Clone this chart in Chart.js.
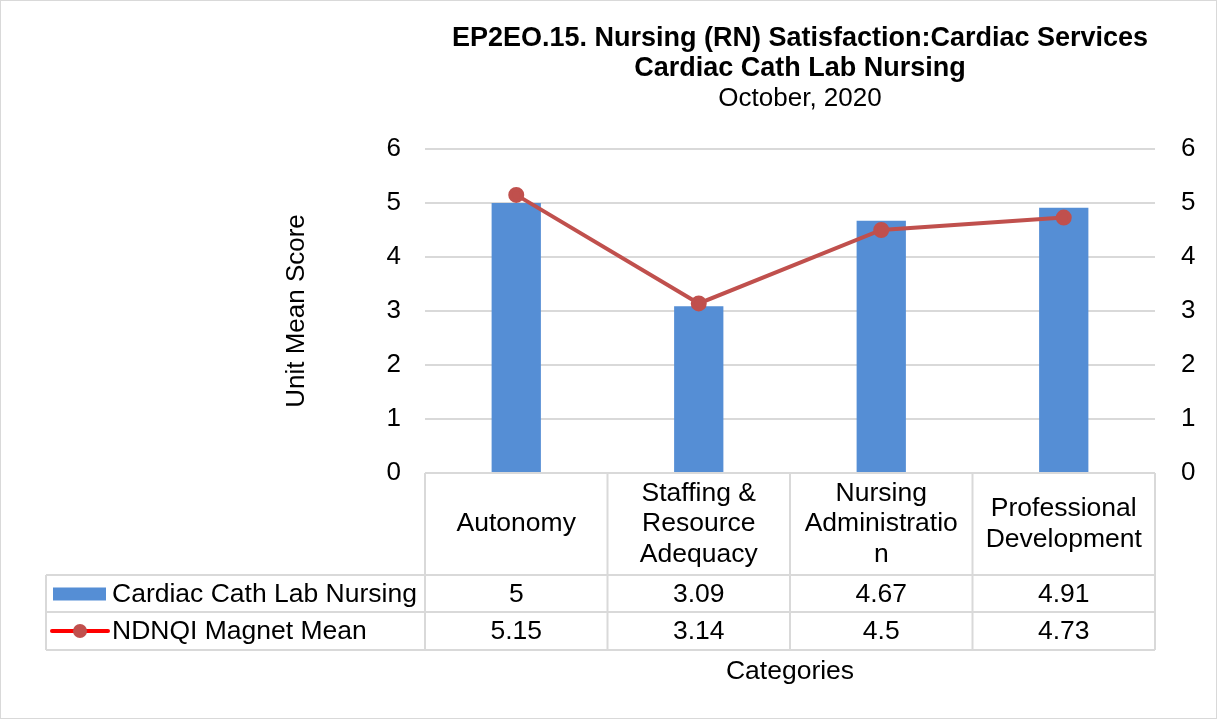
<!DOCTYPE html>
<html>
<head>
<meta charset="utf-8">
<script src="https://cdn.jsdelivr.net/npm/chart.js@4/dist/chart.umd.min.js"></script>
<style>
  body { margin: 0; background: #fff; }
</style>
</head>
<body>
<canvas id="myChart" width="1217" height="719"></canvas>
<script>
// categories (wrapped like the table header in the original)
var categories = [
    ["Autonomy"],
    ["Staffing &", "Resource", "Adequacy"],
    ["Nursing", "Administratio", "n"],
    ["Professional", "Development"]
];
var unitName = "Cardiac Cath Lab Nursing";
var unitScores = [5, 3.09, 4.67, 4.91];
var magnetName = "NDNQI Magnet Mean";
var magnetScores = [5.15, 3.14, 4.5, 4.73];
var yTicks = [0, 1, 2, 3, 4, 5, 6];
var titleLines = ["EP2EO.15. Nursing (RN) Satisfaction:Cardiac Services", "Cardiac Cath Lab Nursing"];
var subTitle = "October, 2020";

var FONT = "'Liberation Sans', Arial, sans-serif";
var barColor = "#558ED5";
var lineColor = "#C0504D";
var gridColor = "#d9d9d9";

// draws the titles and the data table under the plot, lined up with the category scale
var dataTable = {
    id: 'dataTable',
    afterDraw: function (chart) {
        var ctx = chart.ctx;
        var x = chart.scales.x;
        var area = chart.chartArea;
        var n = categories.length;
        var step = (area.right - area.left) / n;
        var top = area.bottom;
        var headBottom = top + 102;
        var row1 = headBottom + 37;
        var row2 = row1 + 38;
        var tableLeft = 46;

        ctx.save();
        // titles
        ctx.fillStyle = "#000";
        ctx.textAlign = "center";
        ctx.textBaseline = "middle";
        ctx.font = "bold 27px " + FONT;
        ctx.fillText(titleLines[0], 800, 39);
        ctx.fillText(titleLines[1], 800, 69);
        ctx.font = "26px " + FONT;
        ctx.fillText(subTitle, 800, 99);

        ctx.strokeStyle = gridColor;
        ctx.lineWidth = 2;
        ctx.beginPath();
        // horizontal lines
        ctx.moveTo(area.left, top); ctx.lineTo(area.right, top);
        ctx.moveTo(tableLeft, headBottom); ctx.lineTo(area.right, headBottom);
        ctx.moveTo(tableLeft, row1); ctx.lineTo(area.right, row1);
        ctx.moveTo(tableLeft, row2); ctx.lineTo(area.right, row2);
        // vertical lines
        ctx.moveTo(tableLeft, headBottom); ctx.lineTo(tableLeft, row2);
        for (var i = 0; i <= n; i++) {
            var vx = area.left + i * step;
            ctx.moveTo(vx, top); ctx.lineTo(vx, row2);
        }
        ctx.stroke();

        ctx.font = "26.5px " + FONT;
        for (var i = 0; i < n; i++) {
            var cx = x.getPixelForValue(i);
            var lines = categories[i];
            var mid = (top + headBottom) / 2;
            for (var j = 0; j < lines.length; j++) {
                ctx.fillText(lines[j], cx, mid + (j - (lines.length - 1) / 2) * 30.5);
            }
            ctx.fillText(String(unitScores[i]), cx, (headBottom + row1) / 2 + 1);
            ctx.fillText(String(magnetScores[i]), cx, (row1 + row2) / 2 + 1);
        }

        // legend keys
        var r1 = (headBottom + row1) / 2;
        var r2 = (row1 + row2) / 2;
        ctx.fillStyle = barColor;
        ctx.fillRect(53, r1 - 6, 53, 13);
        ctx.strokeStyle = "#FF0000";
        ctx.lineWidth = 4;
        ctx.lineCap = "round";
        ctx.beginPath();
        ctx.moveTo(52, r2); ctx.lineTo(108, r2);
        ctx.stroke();
        ctx.fillStyle = lineColor;
        ctx.beginPath();
        ctx.arc(80, r2, 7, 0, Math.PI * 2);
        ctx.fill();

        ctx.fillStyle = "#000";
        ctx.textAlign = "left";
        ctx.fillText(unitName, 112, r1 + 1);
        ctx.fillText(magnetName, 112, r2 + 1);

        // x axis title
        ctx.textAlign = "center";
        ctx.fillText("Categories", (area.left + area.right) / 2, row2 + 22);

        // outer frame
        ctx.strokeStyle = gridColor;
        ctx.lineWidth = 1;
        ctx.strokeRect(0.5, 0.5, chart.width - 1, chart.height - 1);
        ctx.restore();
    }
};

var ctx = document.getElementById("myChart");
window.myChart = new Chart(ctx, {
    type: 'bar',
    data: {
        labels: categories,
        datasets: [
            {
                type: 'line',
                label: magnetName,
                data: magnetScores,
                borderColor: lineColor,
                backgroundColor: lineColor,
                borderWidth: 4,
                pointRadius: 6,
                pointBackgroundColor: lineColor,
                pointBorderColor: lineColor,
                yAxisID: 'y',
                order: 0
            },
            {
                label: unitName,
                data: unitScores,
                backgroundColor: barColor,
                barPercentage: 0.27,
                categoryPercentage: 1,
                yAxisID: 'y',
                order: 1
            }
        ]
    },
    options: {
        responsive: false,
        animation: false,
        layout: { padding: { left: 277, right: 0, top: 149, bottom: 246 } },
        plugins: {
            legend: { display: false },
            tooltip: { enabled: false },
            title: { display: false }
        },
        scales: {
            x: { display: false },
            y: {
                position: 'left',
                min: 0,
                max: 6,
                afterBuildTicks: function (scale) {
                    scale.ticks = yTicks.map(function (v) { return { value: v }; });
                },
                afterFit: function (scale) { scale.width = 148; },
                grid: { color: gridColor, lineWidth: 2, drawTicks: false },
                border: { display: false },
                ticks: { color: "#000", padding: 24, font: { family: FONT, size: 26 } },
                title: {
                    display: true,
                    text: "Unit Mean Score",
                    color: "#000",
                    font: { family: FONT, size: 26 }
                }
            },
            y2: {
                position: 'right',
                min: 0,
                max: 6,
                afterBuildTicks: function (scale) {
                    scale.ticks = yTicks.map(function (v) { return { value: v }; });
                },
                afterFit: function (scale) { scale.width = 62; },
                grid: { display: false, drawTicks: false },
                border: { display: false },
                ticks: { color: "#000", padding: 26, font: { family: FONT, size: 26 } }
            }
        }
    },
    plugins: [dataTable]
});
</script>
</body>
</html>
